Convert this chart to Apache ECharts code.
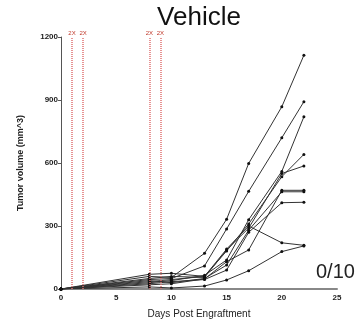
<!DOCTYPE html>
<html>
<head>
<meta charset="utf-8">
<script src="https://cdn.jsdelivr.net/npm/echarts@6/dist/echarts.min.js"></script>
<style>
html,body{margin:0;padding:0;background:#fff;}
#chart{width:359px;height:329px;}
</style>
</head>
<body>
<div id="chart"></div>
<script>
// days measured
var days = [0, 8, 10, 13, 15, 17, 20, 22];
// one array per mouse (tumor volume mm^3)
var mouse1 = [0, 60, 55, 170, 332, 598, 868, 1113];
var mouse2 = [0, 45, 50, 110, 286, 465, 720, 892];
var mouse3 = [0, 30, 40, 65, 138, 330, 560, 820];
var mouse4 = [0, 70, 75, 60, 181, 310, 535, 641];
var mouse5 = [0, 50, 60, 55, 186, 290, 550, 586];
var mouse6 = [0, 40, 30, 50, 114, 280, 463, 463];
var mouse7 = [0, 25, 35, 45, 90, 270, 411, 413];
var mouse8 = [0, 35, 45, 60, 190, 300, 220, 208];
var mouse9 = [0, 10, 5, 14, 43, 87, 178, 205];
var mouse10 = [0, 20, 25, 48, 130, 186, 470, 470];
var mice = [mouse1, mouse2, mouse3, mouse4, mouse5, mouse6, mouse7, mouse8, mouse9, mouse10];
// dosing days (2X)
var doseDays = [1, 2, 8, 9];
var doseLabel = '2X';
var xTicks = [0, 5, 10, 15, 20, 25];
var yTicks = [0, 300, 600, 900, 1200];

var myChart = echarts.init(document.getElementById('chart'));

var series = [];
for (var i = 0; i < mice.length; i++) {
    var pts = [];
    for (var j = 0; j < days.length; j++) {
        pts.push([days[j], mice[i][j]]);
    }
    series.push({
        type: 'line',
        data: pts,
        symbol: 'circle',
        symbolSize: 3,
        color: '#222',
        lineStyle: {width: 1, color: '#333'},
        itemStyle: {color: '#111'},
        silent: true,
        z: 3
    });
}
// red dotted dosing lines
var doseLines = [];
for (var k = 0; k < doseDays.length; k++) {
    doseLines.push([{coord: [doseDays[k], 0]}, {coord: [doseDays[k], 1200]}]);
}
series.push({
    type: 'line',
    data: [],
    markLine: {
        silent: true,
        symbol: ['none', 'none'],
        lineStyle: {color: '#e07070', type: [1, 1], width: 1.5},
        label: {
            show: true,
            position: 'end',
            formatter: doseLabel,
            color: '#c0392b',
            fontSize: 6,
            fontFamily: 'Liberation Sans',
            distance: 1
        },
        data: doseLines
    }
});

var option = {
    animation: false,
    title: [
        {
            text: 'Vehicle',
            left: 194,
            top: 0,
            textAlign: 'center',
            textStyle: {fontSize: 26, fontWeight: 'normal', color: '#111', fontFamily: 'Liberation Sans'}
        },
        {
            text: '0/10',
            left: 311,
            top: 257,
            textStyle: {fontSize: 20, fontWeight: 'normal', color: '#222', fontFamily: 'Liberation Sans'}
        }
    ],
    grid: {left: 61, right: 22, top: 37, bottom: 40},
    xAxis: {
        type: 'value',
        min: 0,
        max: 25,
        interval: 5,
        name: 'Days Post Engraftment',
        nameLocation: 'middle',
        nameGap: 20,
        nameTextStyle: {fontSize: 10, color: '#222', fontFamily: 'Liberation Sans'},
        splitLine: {show: false},
        axisLine: {lineStyle: {color: '#888', width: 2}},
        axisTick: {show: false},
        axisLabel: {
            fontSize: 8, fontWeight: 'bold', color: '#222', fontFamily: 'Liberation Sans', margin: 5,
            formatter: function (v) { return xTicks.indexOf(v) >= 0 ? v : ''; }
        }
    },
    yAxis: {
        type: 'value',
        min: 0,
        max: 1200,
        interval: 300,
        name: 'Tumor volume (mm^3)',
        nameLocation: 'middle',
        nameGap: 36,
        nameRotate: 90,
        nameTextStyle: {fontSize: 9, fontWeight: 'bold', color: '#222', fontFamily: 'Liberation Sans'},
        splitLine: {show: false},
        axisLine: {show: true, lineStyle: {color: '#555', width: 1}},
        axisTick: {show: true, length: 3, lineStyle: {color: '#555'}},
        axisLabel: {
            fontSize: 8, fontWeight: 'bold', color: '#222', fontFamily: 'Liberation Sans', margin: 3,
            formatter: function (v) { return yTicks.indexOf(v) >= 0 ? v : ''; }
        }
    },
    series: series
};
myChart.setOption(option);
</script>
</body>
</html>
